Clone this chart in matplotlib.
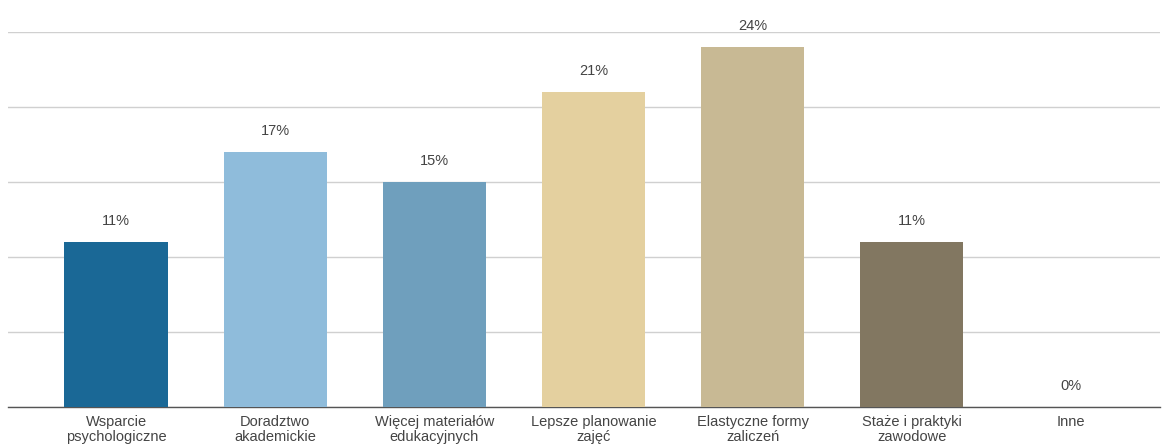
import numpy as np
import matplotlib.pyplot as plt

plt.rcParams['font.family'] = ['Liberation Sans', 'DejaVu Sans']

# data
categories = ['Wsparcie\npsychologiczne', 'Doradztwo\nakademickie', 'Więcej materiałów\nedukacyjnych',
              'Lepsze planowanie\nzajęć', 'Elastyczne formy\nzaliczeń', 'Staże i praktyki\nzawodowe', 'Inne']
values = [11, 17, 15, 21, 24, 11, 0]
colors = ['#1a6896', '#8fbcdb', '#6f9fbd', '#e4d09f', '#c8b994', '#827761', '#cccccc']

fig = plt.figure(figsize=(11.67, 4.46), dpi=100)
ax = fig.add_axes([8/1167, 39/446, 1152/1167, 375/446])

x = np.arange(len(categories))
bars = ax.bar(x, values, width=0.65, color=colors, zorder=3)

for xi, v in zip(x, values):
    ax.annotate(f'{v}%', (xi, v), xytext=(0, 10), textcoords='offset points',
                ha='center', va='bottom', fontsize=10.5, color='#444444')

ax.set_xlim(-0.68, 6.56)
ax.set_ylim(0, 25)
ax.set_yticks(np.arange(0, 26, 5))
ax.yaxis.grid(True, color='#d0d0d0', linewidth=1, zorder=0)
ax.tick_params(axis='y', left=False, labelleft=False)
ax.tick_params(axis='x', length=0, pad=6, labelsize=10.5, labelcolor='#444444')
ax.set_xticks(x)
ax.set_xticklabels(categories, linespacing=1.05)
for s in ['top', 'right', 'left']:
    ax.spines[s].set_visible(False)
ax.spines['bottom'].set_color('#555555')
ax.spines['bottom'].set_linewidth(1)

plt.savefig('out.png', dpi=100)
